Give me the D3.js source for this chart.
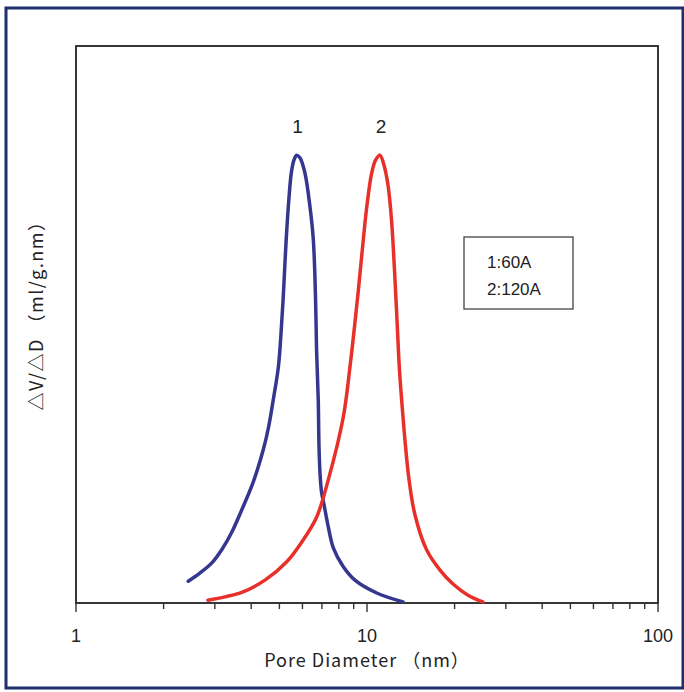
<!DOCTYPE html>
<html>
<head>
<meta charset="utf-8">
<script src="https://cdn.jsdelivr.net/npm/d3@7"></script>
<style>
  body { margin: 0; background: #fff; }
  text { font-family: "Liberation Sans", Arial, sans-serif; fill: #222; }
  .title { font-family: "Noto Sans CJK JP", "Liberation Sans", sans-serif; }
</style>
</head>
<body>
<script>
//pore diameters (nm) and relative dV/dD
var poreBlue = [2.43, 2.67, 2.93, 3.18, 3.43, 3.71, 4.07, 4.40, 4.59, 4.76, 4.96, 5.06, 5.17, 5.27,
                5.40, 5.50, 5.61, 5.73, 5.89, 6.12, 6.37, 6.54, 6.65, 6.71, 6.80, 6.84, 6.90,
                6.98, 7.12, 7.34, 7.66, 8.27, 9.09, 10.8, 13.3];
var valueBlue = [0.039, 0.054, 0.072, 0.097, 0.127, 0.167, 0.218, 0.275, 0.316, 0.364, 0.424, 0.481, 0.562, 0.648,
                 0.731, 0.774, 0.795, 0.804, 0.799, 0.772, 0.711, 0.652, 0.553, 0.454, 0.364, 0.281, 0.230,
                 0.199, 0.176, 0.140, 0.099, 0.066, 0.041, 0.018, 0.002];

var poreRed = [2.84, 3.25, 3.71, 4.46, 5.30, 5.98, 6.71, 7.36, 8.29, 8.74, 9.34, 9.71, 9.98, 10.38, 10.70,
               11.08, 11.44, 11.81, 12.14, 12.43, 12.68, 12.93, 13.24, 13.57, 13.95, 14.62, 16.04,
               17.82, 19.75, 22.24, 25.0];
var valueRed = [0.005, 0.011, 0.019, 0.041, 0.074, 0.110, 0.154, 0.221, 0.334, 0.424, 0.562, 0.652, 0.711, 0.772, 0.795,
                0.804, 0.786, 0.750, 0.688, 0.598, 0.508, 0.418, 0.346, 0.280, 0.221, 0.158, 0.095,
                0.059, 0.034, 0.014, 0.002];

var peakLabels = ["1", "2"];
var legendLines = ["1:60A", "2:120A"];
var tickValues = [1, 10, 100];
var xTitle = "Pore Diameter （nm）";
var yTitle = "△V/△D （ml/g.nm）";

var width = 684, height = 692;
//plot box edges (not called "top", that one belongs to window)
var plotLeft = 76, plotRight = 658, plotTop = 46, plotBottom = 603;

var svg = d3.select("body").append("svg")
    .attr("width", width)
    .attr("height", height);

//outer dark frame of the scan
svg.append("rect")
    .attr("x", 6).attr("y", 8)
    .attr("width", 677).attr("height", 680)
    .attr("fill", "none")
    .attr("stroke", "#1f2f6c")
    .attr("stroke-width", 3);

var x = d3.scaleLog().domain([1, 100]).range([plotLeft, plotRight]);
var y = d3.scaleLinear().domain([0, 1]).range([plotBottom, plotTop]);

//plot box
svg.append("rect")
    .attr("x", plotLeft).attr("y", plotTop)
    .attr("width", plotRight - plotLeft).attr("height", plotBottom - plotTop)
    .attr("fill", "none")
    .attr("stroke", "#222")
    .attr("stroke-width", 1.8);

//bottom axis, ticks pointing down
var allTicks = x.ticks();
svg.append("g")
    .selectAll("line")
    .data(allTicks)
    .enter()
    .append("line")
    .attr("x1", function(d){ return x(d); })
    .attr("x2", function(d){ return x(d); })
    .attr("y1", plotBottom)
    .attr("y2", function(d){ return tickValues.indexOf(d) >= 0 ? plotBottom + 9 : plotBottom + 6; })
    .attr("stroke", "#333")
    .attr("stroke-width", 1.4);

svg.append("g")
    .selectAll("text")
    .data(tickValues)
    .enter()
    .append("text")
    .attr("x", function(d){ return x(d); })
    .attr("y", 642)
    .attr("text-anchor", "middle")
    .attr("font-size", 18)
    .text(function(d){ return d; });

svg.append("text")
    .attr("class", "title")
    .attr("x", 367).attr("y", 667)
    .attr("text-anchor", "middle")
    .attr("font-size", 18)
    .attr("letter-spacing", 1)
    .text(xTitle);

svg.append("text")
    .attr("class", "title")
    .attr("transform", "translate(43,311) rotate(-90)")
    .attr("text-anchor", "middle")
    .attr("font-size", 18)
    .attr("letter-spacing", 1.5)
    .text(yTitle);

//curves
var line = d3.line()
    .x(function(d){ return x(d[0]); })
    .y(function(d){ return y(d[1]); })
    .curve(d3.curveCatmullRom.alpha(0.5));

var series = [
    {pore: poreBlue, value: valueBlue, color: "#35368f"},
    {pore: poreRed, value: valueRed, color: "#e8302a"}
];

svg.selectAll(".curve")
    .data(series)
    .enter()
    .append("path")
    .attr("class", "curve")
    .attr("d", function(s){ return line(d3.zip(s.pore, s.value)); })
    .attr("fill", "none")
    .attr("stroke", function(s){ return s.color; })
    .attr("stroke-width", 3.5)
    .attr("stroke-linecap", "round");

//peak numbers
svg.selectAll(".peak")
    .data(series)
    .enter()
    .append("text")
    .attr("class", "peak")
    .attr("x", function(s){ return x(s.pore[d3.maxIndex(s.value)]) + 1; })
    .attr("y", 133)
    .attr("text-anchor", "middle")
    .attr("font-size", 19)
    .text(function(s, i){ return peakLabels[i]; });

//legend box
svg.append("rect")
    .attr("x", 464).attr("y", 237)
    .attr("width", 109).attr("height", 72)
    .attr("fill", "#fff")
    .attr("stroke", "#444")
    .attr("stroke-width", 1.3);

svg.selectAll(".leg")
    .data(legendLines)
    .enter()
    .append("text")
    .attr("class", "leg")
    .attr("x", 487)
    .attr("y", function(d, i){ return 268 + i * 27; })
    .attr("font-size", 17)
    .text(function(d){ return d; });
</script>
</body>
</html>
